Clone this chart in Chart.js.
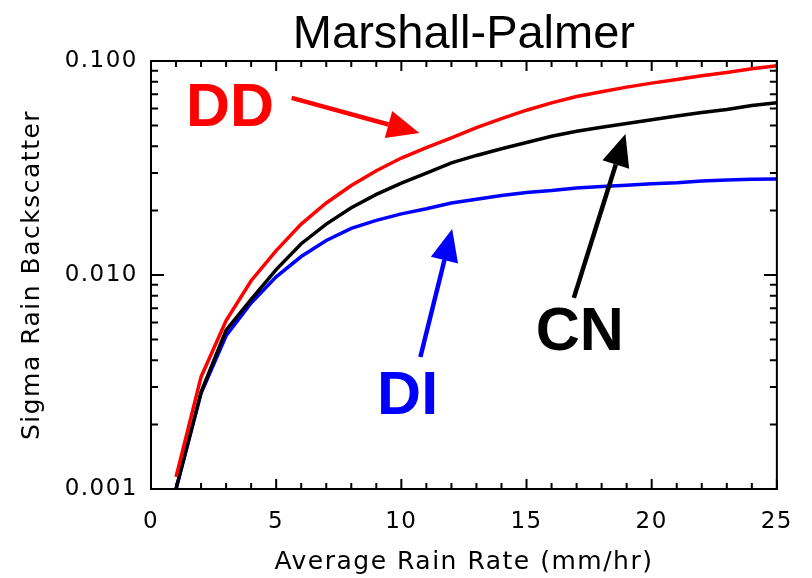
<!DOCTYPE html>
<html>
<head>
<meta charset="utf-8">
<script src="https://cdn.jsdelivr.net/npm/chart.js@4.4.1/dist/chart.umd.min.js"></script>
<style>
  html, body { margin: 0; padding: 0; background: #fff; }
</style>
</head>
<body>
<canvas id="chart" width="812" height="578"></canvas>
<script>
// rain rate (mm/hr) and sigma backscatter for the three methods
const rainRate = [1, 2, 3, 4, 5, 6, 7, 8, 9, 10, 11, 12, 13, 14, 15, 16, 17, 18, 19, 20, 21, 22, 23, 24, 25];
const sigmaDD = [0.00114, 0.00334, 0.00612, 0.0094, 0.0130, 0.0173, 0.0217, 0.0262, 0.0307, 0.0352, 0.0394, 0.0437, 0.0488,
  0.0538, 0.0589, 0.0637, 0.0682, 0.0718, 0.0755, 0.0788, 0.0820, 0.0853, 0.0884, 0.0920, 0.0951];
const sigmaCN = [0.00100, 0.00284, 0.00553, 0.0077, 0.0106, 0.0140, 0.0173, 0.0206, 0.0238, 0.0269, 0.0299, 0.0334, 0.0362,
  0.0389, 0.0416, 0.0445, 0.0470, 0.0490, 0.0511, 0.0531, 0.0553, 0.0574, 0.0594, 0.0620, 0.0638];
const sigmaDI = [0.00100, 0.0028, 0.0052, 0.0074, 0.0098, 0.0122, 0.0145, 0.0165, 0.0180, 0.0193, 0.0204, 0.0217, 0.0226,
  0.0235, 0.0243, 0.0248, 0.0255, 0.0259, 0.0263, 0.0267, 0.0270, 0.0275, 0.0278, 0.0280, 0.0281];

const xTicks = [0, 5, 10, 15, 20, 25];
const yTicks = [0.001, 0.01, 0.1];
const yTickLabels = ['0.001', '0.010', '0.100'];

// big coloured labels and arrows, placed in data units
const notes = [
  { text: 'DD', color: '#ff0000', x: 3.16, y: 0.0629, from: [5.62, 0.0672], to: [10.72, 0.0461] },
  { text: 'CN', color: '#000000', x: 17.13, y: 0.00565, from: [16.89, 0.00782], to: [18.95, 0.0456] },
  { text: 'DI', color: '#0000ff', x: 10.25, y: 0.00284, from: [10.76, 0.00414], to: [12.03, 0.0164] }
];

const axisFont = 'DejaVu Sans';

const idlFrame = {
  id: 'idlFrame',
  beforeUpdate(chart) { chart.ctx.letterSpacing = '1.5px'; },
  beforeDraw(chart) { chart.ctx.letterSpacing = '1.5px'; },
  afterDraw(chart) {
    const ctx = chart.ctx;
    const a = chart.chartArea;
    const xs = chart.scales.x, ys = chart.scales.y;
    ctx.save();
    ctx.letterSpacing = '0px';

    // box
    ctx.strokeStyle = '#000';
    ctx.lineWidth = 2;
    ctx.strokeRect(a.left, a.top, a.right - a.left, a.bottom - a.top);

    // inward ticks on all four sides
    ctx.beginPath();
    for (let v = 0; v <= 25; v++) {
      const px = xs.getPixelForValue(v);
      const len = v % 5 === 0 ? 10 : 6;
      ctx.moveTo(px, a.bottom); ctx.lineTo(px, a.bottom - len);
      ctx.moveTo(px, a.top); ctx.lineTo(px, a.top + len);
    }
    [0.001, 0.01].forEach(d => {
      for (let k = 1; k <= 10; k++) {
        const py = ys.getPixelForValue(k * d);
        const len = (k === 1 || k === 10) ? 13 : 7;
        ctx.moveTo(a.left, py); ctx.lineTo(a.left + len, py);
        ctx.moveTo(a.right, py); ctx.lineTo(a.right - len, py);
      }
    });
    ctx.stroke();

    // title
    ctx.fillStyle = '#000';
    ctx.font = '47px "Liberation Sans", Arial, sans-serif';
    ctx.textAlign = 'center';
    ctx.textBaseline = 'alphabetic';
    ctx.fillText('Marshall-Palmer', (a.left + a.right) / 2, 48);

    // labels and arrows
    const size = 61;
    ctx.font = 'bold ' + size + 'px "Liberation Sans", Arial, sans-serif';
    notes.forEach(n => {
      ctx.fillStyle = n.color;
      ctx.strokeStyle = n.color;
      ctx.fillText(n.text, xs.getPixelForValue(n.x), ys.getPixelForValue(n.y) + size * 0.358);

      const x0 = xs.getPixelForValue(n.from[0]), y0 = ys.getPixelForValue(n.from[1]);
      const x1 = xs.getPixelForValue(n.to[0]), y1 = ys.getPixelForValue(n.to[1]);
      const ang = Math.atan2(y1 - y0, x1 - x0);
      const headLen = 32, headW = 14;
      const bx = x1 - headLen * Math.cos(ang), by = y1 - headLen * Math.sin(ang);
      ctx.lineWidth = 4.5;
      ctx.beginPath();
      ctx.moveTo(x0, y0); ctx.lineTo(bx, by);
      ctx.stroke();
      ctx.beginPath();
      ctx.moveTo(x1, y1);
      ctx.lineTo(bx + headW * Math.sin(ang), by - headW * Math.cos(ang));
      ctx.lineTo(bx - headW * Math.sin(ang), by + headW * Math.cos(ang));
      ctx.closePath();
      ctx.fill();
    });
    ctx.restore();
  }
};

function line(data, color) {
  return {
    data: data,
    borderColor: color,
    backgroundColor: color,
    borderWidth: 3.5,
    pointRadius: 0,
    tension: 0,
    fill: false
  };
}

new Chart(document.getElementById('chart'), {
  type: 'line',
  data: {
    labels: rainRate,
    datasets: [
      line(sigmaDD, '#ff0000'),
      line(sigmaCN, '#000000'),
      line(sigmaDI, '#0000ff')
    ]
  },
  options: {
    responsive: false,
    animation: false,
    devicePixelRatio: 1,
    layout: { padding: { top: 61, right: 29, left: 0, bottom: 0 } },
    plugins: {
      legend: { display: false },
      tooltip: { enabled: false }
    },
    scales: {
      x: {
        type: 'linear',
        min: 0,
        max: 25,
        afterBuildTicks: s => { s.ticks = xTicks.map(v => ({ value: v })); },
        afterFit: s => { s.height = 89; },
        grid: { display: false, drawTicks: false },
        border: { display: false },
        ticks: {
          color: '#000',
          font: { family: axisFont, size: 23 },
          padding: 19,
          maxRotation: 0,
          autoSkip: false
        },
        title: {
          display: true,
          text: 'Average Rain Rate (mm/hr)',
          color: '#000',
          font: { family: axisFont, size: 25 },
          padding: { top: 0, bottom: 1 }
        }
      },
      y: {
        type: 'logarithmic',
        min: 0.001,
        max: 0.1,
        afterBuildTicks: s => { s.ticks = yTicks.map(v => ({ value: v })); },
        afterFit: s => { s.width = 151; },
        grid: { display: false, drawTicks: false },
        border: { display: false },
        ticks: {
          color: '#000',
          font: { family: axisFont, size: 23 },
          padding: 13,
          callback: (v, i) => yTickLabels[i]
        },
        title: {
          display: true,
          text: 'Sigma Rain Backscatter',
          color: '#000',
          font: { family: axisFont, size: 25 },
          padding: { top: 17, bottom: 0 }
        }
      }
    }
  },
  plugins: [idlFrame]
});
</script>
</body>
</html>
